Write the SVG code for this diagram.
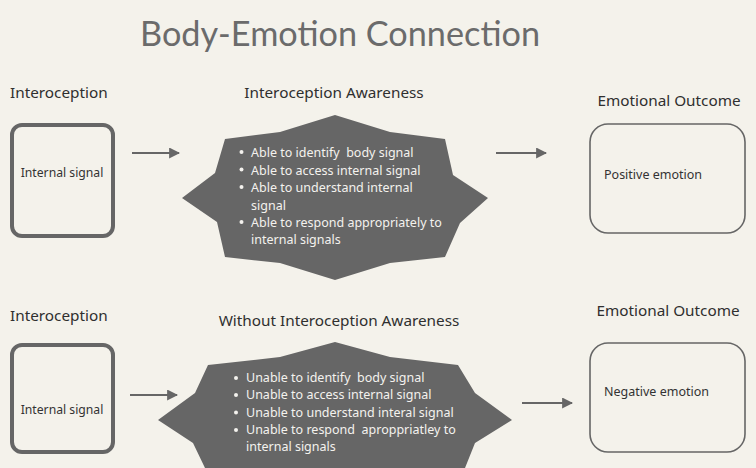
<svg xmlns="http://www.w3.org/2000/svg" width="756" height="468" viewBox="0 0 756 468">
<defs>
<style>
.bg{fill:#f4f2eb}
.title{font-family:Lato,"Open Sans",sans-serif;font-size:35px;fill:#6b6b6b}
.lbl{font-family:"Noto Sans","Open Sans",sans-serif;font-size:15.3px;fill:#2f2f2f}
.box{font-family:"Noto Sans","Open Sans",sans-serif;font-size:12.2px;fill:#333}
.out{font-family:"Noto Sans","Open Sans",sans-serif;font-size:12.5px;fill:#333}
.bul{font-family:"Noto Sans","Open Sans",sans-serif;font-size:12.5px;fill:#f4f2ee;white-space:pre}
.dot{fill:#f4f2ee}
.star{fill:#666666}
.thick{fill:none;stroke:#666;stroke-width:4}
.thin{fill:none;stroke:#666;stroke-width:1.6}
.conn{stroke:#666;stroke-width:2;fill:none}
</style>
<marker id="ah" viewBox="0 0 10 10" refX="9" refY="5" markerWidth="5.5" markerHeight="5.5" orient="auto" markerUnits="strokeWidth">
<path d="M0,0 L10,5 L0,10 z" fill="#666"/>
</marker>
</defs>
<rect class="bg" x="0" y="0" width="756" height="468"/>
<text class="title" x="140" y="46" textLength="400" lengthAdjust="spacingAndGlyphs">Body-Emotion Connection</text>

<g id="label-top-intero"><text class="lbl" x="10" y="98">Interoception</text></g>
<g id="label-top-aware"><text class="lbl" x="334" y="98" text-anchor="middle">Interoception Awareness</text></g>
<g id="label-top-outcome"><text class="lbl" x="669" y="106" text-anchor="middle">Emotional Outcome</text></g>

<g id="label-bot-intero"><text class="lbl" x="10" y="321">Interoception</text></g>
<g id="label-bot-aware"><text class="lbl" x="339" y="326" text-anchor="middle">Without Interoception Awareness</text></g>
<g id="label-bot-outcome"><text class="lbl" x="668" y="316" text-anchor="middle">Emotional Outcome</text></g>

<g id="node-top-internal">
<rect class="thick" x="12" y="125" width="101" height="111" rx="10"/>
<text class="box" x="62" y="177" text-anchor="middle">Internal signal</text>
</g>
<g id="node-top-awareness">
<polygon class="star" points="335,115 390,132 445,139 453,175 488,198 460,223 445,257 390,263 335,280 280,263 225,257 217,222 182,198 215,173 225,139 280,132"/>
<text class="bul" x="251" y="157">Able to identify  body signal</text>
<text class="bul" x="251" y="174.5">Able to access internal signal</text>
<text class="bul" x="251" y="192">Able to understand internal</text>
<text class="bul" x="251" y="209.5">signal</text>
<text class="bul" x="251" y="227">Able to respond appropriately to</text>
<text class="bul" x="251" y="244">internal signals</text>
<circle class="dot" cx="241.5" cy="152" r="2"/>
<circle class="dot" cx="241.5" cy="169.5" r="2"/>
<circle class="dot" cx="241.5" cy="187" r="2"/>
<circle class="dot" cx="241.5" cy="222" r="2"/>
</g>
<g id="node-top-outcome">
<rect class="thin" x="590" y="124" width="155" height="109" rx="18"/>
<text class="out" x="604" y="179">Positive emotion</text>
</g>

<g id="node-bot-internal">
<rect class="thick" x="12" y="345" width="101" height="107" rx="10"/>
<text class="box" x="62" y="414" text-anchor="middle">Internal signal</text>
</g>
<g id="node-bot-awareness">
<polygon class="star" points="335,342 390,357 458,365 475,393 512,420 475,443 465,468 205,468 193,443 158,420 195,393 208,365 280,357"/>
<text class="bul" x="246" y="382">Unable to identify  body signal</text>
<text class="bul" x="246" y="399">Unable to access internal signal</text>
<text class="bul" x="246" y="416.5">Unable to understand interal signal</text>
<text class="bul" x="246" y="434">Unable to respond  aproppriatley to</text>
<text class="bul" x="246" y="451">internal signals</text>
<circle class="dot" cx="236" cy="378" r="2"/>
<circle class="dot" cx="236" cy="395" r="2"/>
<circle class="dot" cx="236" cy="412.5" r="2"/>
<circle class="dot" cx="236" cy="430" r="2"/>
</g>
<g id="node-bot-outcome">
<rect class="thin" x="590" y="343" width="155" height="109" rx="18"/>
<text class="out" x="604" y="396">Negative emotion</text>
</g>

<g id="connectors">
<line class="conn" x1="132" y1="153" x2="179" y2="153" marker-end="url(#ah)"/>
<line class="conn" x1="496" y1="153" x2="546" y2="153" marker-end="url(#ah)"/>
<line class="conn" x1="130" y1="395" x2="177" y2="395" marker-end="url(#ah)"/>
<line class="conn" x1="522" y1="403" x2="572" y2="403" marker-end="url(#ah)"/>
</g>
</svg>
